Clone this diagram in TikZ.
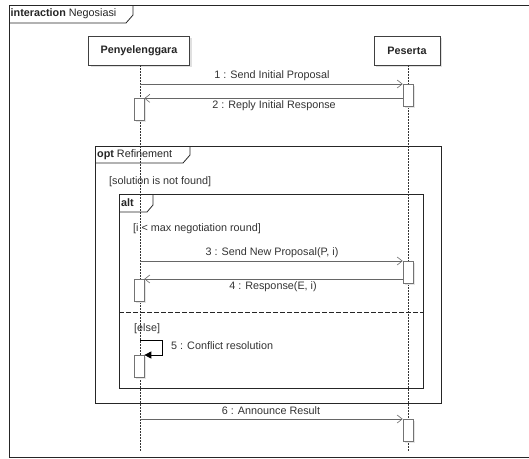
\documentclass[tikz,border=0pt]{standalone}
\usepackage{fontspec}
\setmainfont{Liberation Sans}
\usetikzlibrary{arrows.meta,shadows,calc}
\tikzset{
  x=1pt,y=-1pt,
  part/.style={draw=black!75,line width=0.7pt,fill=white,minimum width=101pt,minimum height=29pt,inner sep=0pt,font=\bfseries\fontsize{10.8}{12}\selectfont,text=black!85,
    drop shadow={shadow xshift=2pt,shadow yshift=-2pt,fill=black!12,opacity=1}},
  act/.style={draw=black!55,line width=0.7pt,fill=white,minimum width=10pt,minimum height=22pt,inner sep=0pt,anchor=north,
    drop shadow={shadow xshift=1.5pt,shadow yshift=-1.5pt,fill=black!10,opacity=1}},
  life/.style={draw=black!80,line width=0.6pt,dash pattern=on 1.5pt off 1.5pt},
  msg/.style={draw=black!60,line width=0.8pt,-{Straight Barb[length=5pt,width=8pt,line width=0.6pt]}},
  selfmsg/.style={draw=black,line width=0.8pt,-{Triangle[length=7pt,width=7pt]}},
  lbl/.style={font=\fontsize{10.8}{12}\selectfont,text=black!80,inner sep=1pt},
  frm/.style={draw=black!85,line width=0.8pt},
  tabtext/.style={font=\fontsize{10.8}{12}\selectfont,text=black!85,anchor=west,inner sep=1pt},
}
\begin{document}
\begin{tikzpicture}
\useasboundingbox (0,0) rectangle (529,458);
\fill[white] (0,0) rectangle (529,458);
% outer frame
\draw[frm] (531,5) -- (9,5) -- (9,457) -- (531,457);
\draw[frm] (9,23) -- (126,23) -- (133,15) -- (133,5);
\node[tabtext] (ttl) at (9.5,14) {\textbf{interaction} Negosiasi};
% participants
\node[part] (pA) at (139,50.5) {Penyelenggara};
\node[part,minimum width=66pt] (pB) at (407,50.5) {Peserta};
\coordinate (endA) at (140,452);
\coordinate (endB) at (408,452);
\draw[life] (pA.south -| endA) -- (endA);
\draw[life] (pB.south -| endB) -- (endB);
% opt frame
\draw[frm,fill=none] (95,146) rectangle (441,403);
\draw[frm] (95,163) -- (183,163) -- (190,155) -- (190,146);
\node[tabtext] (optt) at (96,155) {\textbf{opt} Refinement};
\node[lbl,anchor=west] (g1) at (108,182) {[solution is not found]};
% alt frame
\draw[frm] (119,194) rectangle (423,388);
\draw[frm] (119,212) -- (147,212) -- (153,205) -- (153,194);
\node[tabtext] (altt) at (120,203) {\textbf{alt}};
\node[lbl,anchor=west] (g2) at (132,229) {[i < max negotiation round]};
\draw[frm,dashed,dash pattern=on 5pt off 2pt] (119,312) -- (423,312);
\node[lbl,anchor=west] (g3) at (133,329) {[else]};
% activations
\node[act] (b1) at (408,84) {};
\node[act] (a1) at (139,98) {};
\node[act] (b2) at (408,261) {};
\node[act] (a2) at (139,279) {};
\node[act] (a3) at (139,355) {};
\node[act] (b3) at (408,419) {};
% messages
\coordinate (s1) at (140,84);
\draw[msg] (s1) -- (b1.north west);
\node[lbl] (m1) at (272,76) {1 : Send Initial Proposal};
\draw[msg] ($(b1.west)+(0,3)$) coordinate (s2) -- (s2 -| a1.north east);
\node[lbl] (m2) at (274,106) {2 : Reply Initial Response};
\coordinate (s3) at (140,261);
\draw[msg] (s3) -- (b2.north west);
\node[lbl] (m3) at (272,253) {3 : Send New Proposal(P, i)};
\coordinate (s4) at (403,279);
\draw[msg] (s4) -- (s4 -| a2.north east);
\node[lbl] (m4) at (273,287) {4 : Response(E, i)};
\coordinate (s5) at (140,340);
\draw[selfmsg] (s5) -- (162,340) -- (162,355) -- (a3.north east);
\node[lbl,anchor=west] (m5) at (170,346) {5 : Conflict resolution};
\coordinate (s6) at (140,419);
\draw[msg] (s6) -- (b3.north west);
\node[lbl] (m6) at (271,411) {6 : Announce Result};
\end{tikzpicture}
\end{document}
